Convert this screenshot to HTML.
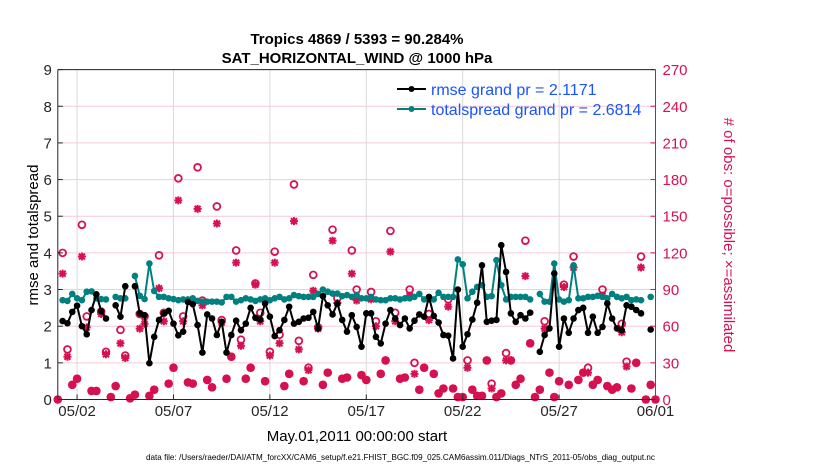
<!DOCTYPE html>
<html><head><meta charset="utf-8"><style>
html,body{margin:0;padding:0;background:#fff;}
svg{display:block;font-family:"Liberation Sans",Arial,sans-serif;}
</style></head><body>
<svg id="chart" width="830" height="470" viewBox="0 0 830 470" xmlns="http://www.w3.org/2000/svg">
<g id="grid"></g>
<g id="obs"></g>
<g id="lines"></g>
<g id="axes"></g>
<text x="357" y="44" text-anchor="middle" font-size="15" font-weight="bold">Tropics 4869 / 5393 = 90.284%</text>
<text x="357" y="63" text-anchor="middle" font-size="15" font-weight="bold">SAT_HORIZONTAL_WIND @ 1000 hPa</text>
<text transform="translate(38,235) rotate(-90)" text-anchor="middle" font-size="15">rmse and totalspread</text>
<text transform="translate(724,235) rotate(90)" text-anchor="middle" font-size="15" fill="#d6114f"># of obs: o=possible; ×=assimilated</text>
<text x="357" y="441" text-anchor="middle" font-size="15">May.01,2011 00:00:00 start</text>
<text x="146" y="460" font-size="8.5" textLength="509" lengthAdjust="spacingAndGlyphs">data file: /Users/raeder/DAI/ATM_forcXX/CAM6_setup/f.e21.FHIST_BGC.f09_025.CAM6assim.011/Diags_NTrS_2011-05/obs_diag_output.nc</text>
<g>
  <g>
    <line x1="397" y1="89" x2="426" y2="89" stroke="#000" stroke-width="2"/>
    <circle cx="411.5" cy="89" r="3" fill="#000"/>
    <text x="431" y="95" font-size="16" fill="#1a53ff">rmse grand pr = 2.1171</text>
  </g>
  <g>
    <line x1="397" y1="109" x2="426" y2="109" stroke="#008080" stroke-width="2"/>
    <circle cx="411.5" cy="109" r="3" fill="#008080"/>
    <text x="431" y="115" font-size="16" fill="#1a53ff">totalspread grand pr = 2.6814</text>
  </g>
</g>
</svg>
<script>
const N=null;
const xTickDays=[1,6,11,16,21,26,31];
const xTickLabels=["05/02","05/07","05/12","05/17","05/22","05/27","06/01"];
const yTicks=[0,1,2,3,4,5,6,7,8,9];
const y2TickLabels=[0,30,60,90,120,150,180,210,240,270];
const rmse=[N,2.14,2.08,2.39,2.56,2.0,1.78,2.44,2.87,2.41,2.21,N,2.57,2.26,3.09,N,3.09,2.35,2.3,0.99,1.71,2.17,2.35,2.42,2.07,1.75,1.85,2.66,2.6,2.03,1.28,2.32,2.21,1.76,2.12,1.28,
1.76,2.15,1.89,2.07,2.5,2.23,2.18,2.62,2.26,1.73,1.89,2.17,2.53,2.07,2.12,2.21,2.23,2.39,1.94,2.82,2.57,2.32,2.62,2.17,1.85,2.3,1.98,1.44,2.35,2.35,1.71,1.53,2.07,2.44,2.21,2.03,
2.21,1.94,2.15,2.32,2.26,2.8,2.28,2.1,1.76,1.74,1.12,3.0,1.44,1.78,2.18,2.64,3.66,2.12,2.15,2.17,4.21,3.48,2.35,2.12,2.3,2.21,2.37,N,1.3,1.76,1.94,3.44,1.44,2.21,1.82,2.21,2.44,2.5,1.82,2.26,1.82,1.98,2.62,2.21,1.94,1.89,2.57,2.53,2.44,2.35,N,1.91,N];
const spread=[N,2.71,2.69,2.88,2.76,2.71,2.94,2.95,2.76,2.74,2.73,N,2.8,2.76,2.76,N,3.37,2.83,2.74,3.71,2.96,2.8,2.8,2.76,2.74,2.71,2.73,2.73,2.76,2.69,2.67,2.67,2.67,2.67,2.65,2.8,
2.8,2.67,2.71,2.76,2.73,2.69,2.73,2.76,2.71,2.76,2.8,2.73,2.76,2.85,2.82,2.8,2.8,2.8,2.88,3.0,2.94,2.89,2.89,2.82,2.85,2.8,2.85,2.76,2.76,2.8,2.73,2.71,2.71,2.76,2.76,2.73,
2.76,2.76,2.8,2.88,2.73,2.73,2.73,2.91,2.8,2.8,2.8,3.82,3.69,2.76,2.94,3.07,3.12,2.8,2.82,3.8,3.12,2.73,2.8,2.8,2.8,2.8,2.73,N,2.88,2.67,2.67,3.71,2.73,2.67,2.71,3.66,2.76,2.76,2.8,2.8,2.83,2.8,2.76,2.88,2.8,2.76,2.8,2.71,2.73,2.71,N,2.8,N];
const possible=[0,120,41,12,17,143,68,7,7,72,39,2,11,57,36,1,4,70,68,3,8,118,71,13,26,181,68,14,13,190,81,16,10,158,65,17,
35,122,49,17,26,95,71,15,39,121,53,11,21,176,48,15,26,102,59,12,22,139,83,17,18,122,90,20,16,88,64,21,32,138,71,17,
18,90,30,8,26,70,21,5,9,82,9,2,2,32,8,3,3,32,13,2,5,38,32,12,17,130,46,2,8,64,22,2,15,94,12,117,16,22,26,12,16,90,11,8,10,62,31,9,30,117,0,12,0];
const assimilated=[0,103,35,12,17,117,59,7,7,70,37,2,11,46,34,1,4,58,62,3,8,91,64,13,26,163,64,14,13,156,77,16,10,144,63,17,
35,112,44,17,26,94,64,15,36,112,46,11,21,146,41,15,24,89,58,12,22,130,79,17,18,103,81,20,16,82,60,21,32,121,64,17,
18,85,21,8,26,65,21,5,9,76,9,2,2,26,8,3,3,32,9,2,5,32,32,12,17,101,46,2,8,58,22,2,15,92,12,108,16,22,22,12,16,85,11,8,10,55,27,9,30,108,0,12,0];

const X0=57.8,X1=655.5,Y0=399.5,Y1=69.6;
const xs=d=>X0+(d/31)*(X1-X0);
const ys=v=>Y0-(v/9)*(Y0-Y1);
const ys2=c=>ys(c/30);
const xi=i=>xs(i*0.25);
const NS="http://www.w3.org/2000/svg";
function mk(tag,attrs,parent){const e=document.createElementNS(NS,tag);for(const k in attrs)e.setAttribute(k,attrs[k]);parent.appendChild(e);return e;}
const grid=document.getElementById('grid'),axes=document.getElementById('axes'),obs=document.getElementById('obs'),lines=document.getElementById('lines');

yTicks.forEach((v,k)=>{
  const g=mk('line',{x1:X0,x2:X1,y1:ys(v),y2:ys(v),stroke:'#f6cad8','stroke-width':1},grid);
  
  
  const t=mk('line',{x1:X0,x2:X0+5,y1:ys(v),y2:ys(v),stroke:'#262626','stroke-width':1},axes);
  
  
  const l=mk('text',{x:X0-6,y:ys(v)+5.5,'text-anchor':'end','font-size':15,fill:'#262626'},axes);
  l.textContent=v;
  
  
  const t2=mk('line',{x1:X1-5,x2:X1,y1:ys(v),y2:ys(v),stroke:'#d6114f','stroke-width':1},axes);
  
  
  const l2=mk('text',{x:X1+7,y:ys(v)+5.5,'font-size':15,fill:'#d6114f'},axes);
  l2.textContent=y2TickLabels[k];
  
  
});
xTickDays.forEach((d,k)=>{
  const g=mk('line',{x1:xs(d),x2:xs(d),y1:Y1,y2:Y0,stroke:'#d9d9d9','stroke-width':1},grid);
  
  
  const t=mk('line',{x1:xs(d),x2:xs(d),y1:Y0,y2:Y0-5,stroke:'#262626','stroke-width':1},axes);
  
  
  const l=mk('text',{x:xs(d),y:416,'text-anchor':'middle','font-size':15,fill:'#262626'},axes);
  l.textContent=xTickLabels[k];
  
  
});
const frame=[[X0,Y1,X1,Y1,'#262626','top-border'],[X0,Y0,X1,Y0,'#262626','x-axis-line'],[X0,Y1,X0,Y0,'#262626','y-axis-line'],[X1,Y1,X1,Y0,'#d6114f','y2-axis-line']];
frame.forEach(f=>{const e=mk('line',{x1:f[0],y1:f[1],x2:f[2],y2:f[3],stroke:f[4],'stroke-width':1},axes);
  
  });

// obs markers
const MAG='#d6114f';
possible.forEach((c,i)=>{
  if(c==null)return;
  const e=mk('circle',{cx:xi(i),cy:ys2(c),r:3.4,fill:'none',stroke:MAG,'stroke-width':1.8},obs);
  
  
});
assimilated.forEach((c,i)=>{
  if(c==null)return;
  const x=xi(i),y=ys2(c),r=4;
  const d=`M${x-r},${y}H${x+r}M${x},${y-r}V${y+r}M${x-r*0.75},${y-r*0.75}L${x+r*0.75},${y+r*0.75}M${x-r*0.75},${y+r*0.75}L${x+r*0.75},${y-r*0.75}`;
  const e=mk('path',{d:d,stroke:MAG,'stroke-width':2,fill:'none'},obs);
  
  
  const c2=mk('circle',{cx:x,cy:y,r:2.2,fill:MAG},obs);
  
  
});

function series(arr,color,name){
  let d='',pen=false;
  arr.forEach((v,i)=>{if(v==null){pen=false;return;}d+=(pen?'L':'M')+xi(i).toFixed(2)+','+ys(v).toFixed(2);pen=true;});
  const p=mk('path',{d:d,fill:'none',stroke:color,'stroke-width':2,'stroke-linejoin':'round'},lines);
  
  
  arr.forEach((v,i)=>{if(v==null)return;
    const c=mk('circle',{cx:xi(i),cy:ys(v),r:3.3,fill:color},lines);
    
    });
}
series(spread,'#008080','totalspread');
series(rmse,'#000000','rmse');
</script>
</body></html>
